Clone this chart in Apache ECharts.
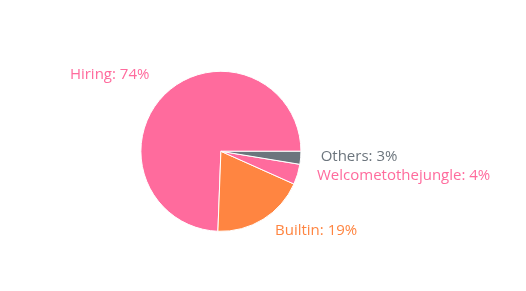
<!DOCTYPE html>
<html><head><meta charset="utf-8">
<script src="https://cdn.jsdelivr.net/npm/echarts@6/dist/echarts.min.js"></script>
<style>html,body{margin:0;padding:0;background:#fff}#c{width:526px;height:291px}</style>
</head><body><div id="c"></div>
<script>
const categories = ['Hiring', 'Builtin', 'Welcometothejungle', 'Others'];
const values = [74.4, 18.9, 4.1, 2.6];
const colors = ['#ff6b9d', '#ff8541', '#ff6b9d', '#6c757d'];

const chart = echarts.init(document.getElementById('c'), null, {renderer: 'canvas'});
chart.setOption({
  animation: false,
  series: [{
    type: 'pie',
    center: ['42%', '52%'],
    radius: '55%',
    startAngle: 0,
    clockwise: false,
    percentPrecision: 0,
    itemStyle: {borderColor: '#fff', borderWidth: 1},
    label: {formatter: '{b}: {d}%', fontSize: 15, fontFamily: 'Open Sans'},
    labelLine: {show: false, length: 13, length2: 2},
    labelLayout: function (p) {
      if (p.dataIndex === 0) return {dy: -10};
      if (p.dataIndex === 1) return {dx: -2, dy: 0};
      return {dy: -2};
    },
    data: categories.map((c, i) => ({
      name: c, value: values[i],
      itemStyle: {color: colors[i]},
      label: {color: colors[i]}
    }))
  }]
});
</script></body></html>
